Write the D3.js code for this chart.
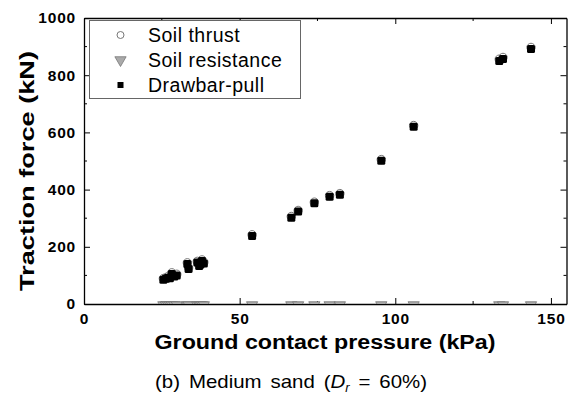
<!DOCTYPE html>
<head>
<meta charset='utf-8'>
<title>Traction force vs ground contact pressure</title>
<script src='https://d3js.org/d3.v7.min.js'></script>
<style>
    html, body { margin: 0; padding: 0; background: white; }
    svg { display: block; font-family: 'Liberation Sans', Arial, sans-serif; }
    .tick text { font-weight: bold; font-size: 15.5px; letter-spacing: 0.8px; fill: #000; }
    .legend text { font-size: 19.5px; letter-spacing: 0.5px; fill: #000; }
</style>
</head>
<body>
<svg id='chart' width='569' height='398'></svg>
<script>
    // values
    var pressure   = [25.5, 26.3, 27, 27.6, 28.2, 29, 29.8, 33.2, 33.6, 36.4, 37, 37.4, 37.9, 38.5, 54, 66.6, 68.8, 74, 78.9, 82.2, 95.5, 105.9, 133.4, 134.6, 143.6];
    var drawbar    = [85, 88, 92, 90, 105, 96, 100, 140, 122, 145, 133, 138, 150, 142, 238, 302, 323, 352, 375, 382, 501, 620, 850, 857, 892];
    var thrust     = [89, 92, 96, 94, 109, 100, 104, 144, 126, 149, 137, 142, 154, 146, 242, 306, 327, 356, 379, 386, 505, 624, 856, 862, 897];
    var resistance = [0, 0, 0, 0, 0, 0, 0, 0, 0, 0, 0, 0, 0, 0, 0, 0, 0, 0, 0, 0, 0, 0, 0, 0, 0];
    var xTicks = [0, 50, 100, 150];
    var yTicks = [0, 200, 400, 600, 800, 1000];
    var seriesNames = ['Soil thrust', 'Soil resistance', 'Drawbar-pull'];

    var pLeft = 84, pTop = 18, pRight = 566.5, pBottom = 304;
    var svg = d3.select('#chart');

    var x = d3.scaleLinear().domain([0, 155]).range([pLeft, pRight]);
    var y = d3.scaleLinear().domain([0, 1000]).range([pBottom, pTop]);

    svg.append('clipPath').attr('id', 'clip')
        .append('rect').attr('x', pLeft).attr('y', pTop).attr('width', pRight - pLeft).attr('height', pBottom - pTop);

    // minor ticks (inward, all four sides)
    var xMinor = d3.range(25, 155, 50), yMinor = d3.range(100, 1000, 200);
    var g = svg.append('g').attr('stroke', '#000').attr('stroke-width', 1);
    xMinor.forEach(function(v){
        g.append('line').attr('x1', x(v)).attr('x2', x(v)).attr('y1', pBottom).attr('y2', pBottom - 3);
        g.append('line').attr('x1', x(v)).attr('x2', x(v)).attr('y1', pTop).attr('y2', pTop + 3);
    });
    yMinor.forEach(function(v){
        g.append('line').attr('y1', y(v)).attr('y2', y(v)).attr('x1', pLeft).attr('x2', pLeft + 3);
        g.append('line').attr('y1', y(v)).attr('y2', y(v)).attr('x1', pRight).attr('x2', pRight - 3);
    });

    // axes
    var xAxis = svg.append('g').attr('transform', 'translate(0,' + pBottom + ')')
        .call(d3.axisBottom(x).tickValues(xTicks).tickSizeInner(-6).tickSizeOuter(0).tickPadding(9));
    var yAxis = svg.append('g').attr('transform', 'translate(' + pLeft + ',0)')
        .call(d3.axisLeft(y).tickValues(yTicks).tickSizeInner(-6).tickSizeOuter(0).tickPadding(8));
    svg.append('g').attr('transform', 'translate(0,' + pTop + ')')
        .call(d3.axisTop(x).tickValues(xTicks).tickSizeInner(-6).tickSizeOuter(0).tickFormat(''));
    svg.append('g').attr('transform', 'translate(' + pRight + ',0)')
        .call(d3.axisRight(y).tickValues(yTicks).tickSizeInner(-6).tickSizeOuter(0).tickFormat(''));
    svg.selectAll('.domain').attr('stroke', '#000').attr('stroke-width', 1.3);
    svg.selectAll('.tick line').attr('stroke', '#000');
    yAxis.selectAll('.tick text').text(function(d){ return d; });

    // data layer
    var plot = svg.append('g').attr('clip-path', 'url(#clip)');
    var tri = d3.symbol().type(d3.symbolTriangle).size(55);

    plot.selectAll('.thrust').data(pressure).enter().append('circle')
        .attr('cx', function(d){ return x(d); })
        .attr('cy', function(d, i){ return y(thrust[i]); })
        .attr('r', 4.2).attr('fill', 'white').attr('stroke', '#777').attr('stroke-width', 1);

    plot.selectAll('.resist').data(pressure).enter().append('path')
        .attr('d', tri)
        .attr('transform', function(d, i){ return 'translate(' + x(d) + ',' + (y(resistance[i]) + 1) + ') rotate(180)'; })
        .attr('fill', '#aaa').attr('stroke', '#777').attr('stroke-width', 0.8);

    plot.selectAll('.pull').data(pressure).enter().append('rect')
        .attr('x', function(d){ return x(d) - 4; })
        .attr('y', function(d, i){ return y(drawbar[i]) - 4; })
        .attr('width', 8).attr('height', 8).attr('rx', 1.5).attr('fill', '#000');

    // legend
    var lg = svg.append('g').attr('class', 'legend');
    lg.append('rect').attr('x', 89.5).attr('y', 20.5).attr('width', 211).attr('height', 78)
        .attr('fill', 'white').attr('stroke', '#666').attr('stroke-width', 1);
    seriesNames.forEach(function(name, i){
        var cy = 35 + i * 25;
        if (i === 0) lg.append('circle').attr('cx', 120.5).attr('cy', cy).attr('r', 3.5)
            .attr('fill', 'white').attr('stroke', '#777');
        if (i === 1) lg.append('path').attr('d', tri)
            .attr('transform', 'translate(120.5,' + cy + ') rotate(180)')
            .attr('fill', '#aaa').attr('stroke', '#777').attr('stroke-width', 0.8);
        if (i === 2) lg.append('rect').attr('x', 117.5).attr('y', cy - 3).attr('width', 6).attr('height', 6).attr('fill', '#000');
        lg.append('text').attr('x', 148).attr('y', cy).attr('dy', '0.35em').text(name);
    });

    // titles
    svg.append('text').attr('x', 325).attr('y', 349).attr('text-anchor', 'middle')
        .attr('font-size', 20).attr('font-weight', 'bold')
        .attr('textLength', 341).attr('lengthAdjust', 'spacingAndGlyphs')
        .text('Ground contact pressure (kPa)');
    svg.append('text').attr('transform', 'translate(34,171) rotate(-90)').attr('text-anchor', 'middle')
        .attr('font-size', 20).attr('font-weight', 'bold')
        .attr('textLength', 240).attr('lengthAdjust', 'spacingAndGlyphs')
        .text('Traction force (kN)');

    var cap = svg.append('text').attr('x', 155).attr('y', 388).attr('font-size', 19)
        .attr('word-spacing', 3).attr('textLength', 272).attr('lengthAdjust', 'spacingAndGlyphs');
    cap.append('tspan').text('(b) Medium sand (');
    cap.append('tspan').attr('font-style', 'italic').text('D');
    cap.append('tspan').attr('font-style', 'italic').attr('font-size', 12).attr('dy', 4).text('r');
    cap.append('tspan').attr('dy', -4).text(' = 60%)');
</script>
</body>
